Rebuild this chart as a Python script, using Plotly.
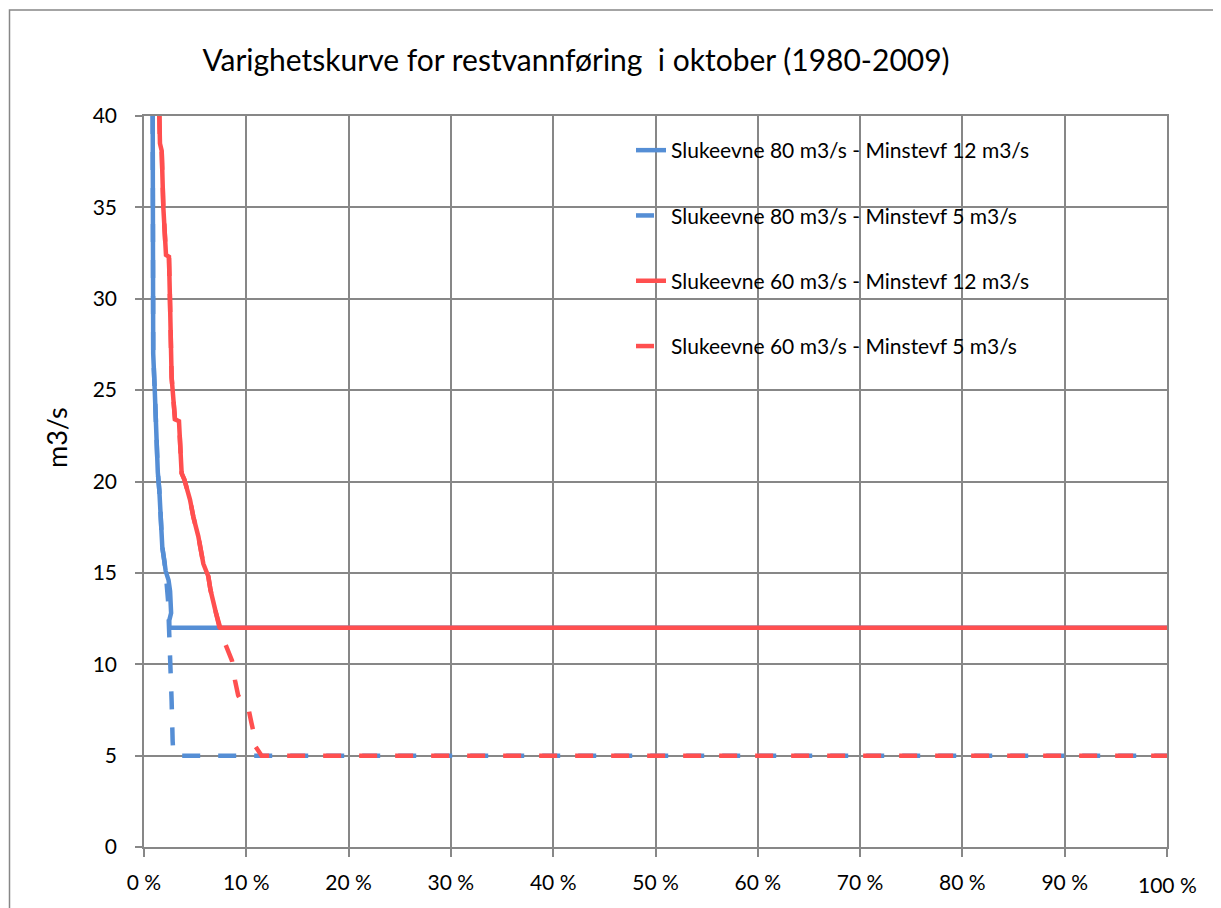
import plotly.graph_objects as go

# ---- data (x in % of time, y in m3/s) ----
title_text = "Varighetskurve for restvannføring  i oktober (1980-2009)"
y_label = "m3/s"
series_names = [
    "Slukeevne 80 m3/s - Minstevf 12 m3/s",
    "Slukeevne 80 m3/s - Minstevf 5 m3/s",
    "Slukeevne 60 m3/s - Minstevf 12 m3/s",
    "Slukeevne 60 m3/s - Minstevf 5 m3/s",
]

b80_12_x = [0.85, 0.85, 0.86, 0.90, 1.05, 1.15, 1.22, 1.35, 1.50, 1.62, 1.79, 2.00, 2.12, 2.40, 2.55, 2.65, 2.47, 2.47, 100]
b80_12_y = [40, 35, 30, 27.0, 25.0, 23.1, 22.8, 20.5, 19.5, 17.5, 16.4, 15.6, 15.1, 14.6, 14.0, 12.8, 12.4, 12.0, 12.0]

b80_5_x = [0.85, 0.85, 0.86, 0.90, 1.05, 1.15, 1.22, 1.35, 1.50, 1.62, 1.79, 2.00, 2.12, 2.20, 2.35, 2.47, 2.60, 2.70, 2.80, 2.85, 3.00, 100]
b80_5_y = [40, 35, 30, 27.0, 25.0, 23.1, 22.8, 20.5, 19.5, 17.5, 16.4, 15.6, 15.1, 14.5, 13.5, 12.0, 10.0, 8.0, 5.8, 5.3, 5.0, 5.0]

r60_12_x = [1.50, 1.56, 1.73, 1.89, 2.15, 2.44, 2.54, 2.70, 3.03, 3.42, 3.68, 3.95, 4.50, 4.82, 5.31, 5.80, 6.29, 6.50, 7.04, 7.43, 7.45, 100]
r60_12_y = [40, 38.5, 38.1, 35.0, 32.4, 32.3, 29.9, 25.7, 23.4, 23.3, 20.45, 20.1, 19.0, 18.07, 17.0, 15.5, 14.8, 14.06, 12.8, 12.05, 12.0, 12.0]

r60_5_x = [1.50, 1.56, 1.73, 1.89, 2.15, 2.44, 2.54, 2.70, 3.03, 3.42, 3.68, 3.95, 4.50, 4.82, 5.31, 5.80, 6.29, 6.50, 7.04, 7.43, 7.50, 8.10, 8.60, 8.90, 9.20, 9.50, 10.2, 10.5, 10.7, 10.9, 11.5, 100]
r60_5_y = [40, 38.5, 38.1, 35.0, 32.4, 32.3, 29.9, 25.7, 23.4, 23.3, 20.45, 20.1, 19.0, 18.07, 17.0, 15.5, 14.8, 14.06, 12.8, 12.05, 11.7, 10.9, 10.2, 9.1, 8.3, 8.0, 7.6, 6.8, 6.3, 5.5, 5.0, 5.0]

x_tickvals = [0, 10, 20, 30, 40, 50, 60, 70, 80, 90, 100]
x_ticktext = ["0 %", "10 %", "20 %", "30 %", "40 %", "50 %", "60 %", "70 %", "80 %", "90 %", ""]
last_x_label = "100 %"
y_tickvals = [0, 5, 10, 15, 20, 25, 30, 35, 40]

# ---- styling ----
BLUE = "#558ed5"
RED = "#ff4f4f"
GRID = "#878787"
FONT = "Lato"
DASH = "18px,18px"

fig = go.Figure()
xs = [b80_12_x, b80_5_x, r60_12_x, r60_5_x]
ys = [b80_12_y, b80_5_y, r60_12_y, r60_5_y]
colors = [BLUE, BLUE, RED, RED]
dashes = ["solid", DASH, "solid", DASH]
for i in range(4):
    fig.add_trace(go.Scatter(
        x=xs[i], y=ys[i], mode="lines", name=series_names[i],
        legendgroup=f"g{i}",
        line=dict(color=colors[i], width=4.5, dash=dashes[i]),
    ))

# page body has an 8px margin -> figure starts at screen (8, 8)
OFF = 8
W, H = 1221 - OFF, 908 - OFF
L, R, T, B = 144 - OFF, 1221 - 1167, 116 - OFF, 908 - 847
pw, ph = W - L - R, H - T - B

def px_x(p):  # screen pixel -> paper x
    return (p - OFF - L) / pw

def px_y(p):  # screen pixel -> paper y
    return (H + OFF - B - p) / ph

fig.update_layout(
    width=W, height=H,
    margin=dict(l=L, r=R, t=T, b=B),
    paper_bgcolor="white", plot_bgcolor="white",
    font=dict(family=FONT, color="black", size=20),
    title=dict(text=title_text, x=(576 - OFF) / W, xanchor="center",
               y=1 - (60 - OFF) / H, yanchor="middle", yref="container", xref="container",
               font=dict(family=FONT, size=30, color="black")),
    showlegend=True,
    legend=dict(
        x=px_x(631), xanchor="left", y=px_y(130), yanchor="top",
        bgcolor="rgba(0,0,0,0)", borderwidth=0,
        font=dict(family=FONT, size=21, color="black"),
        traceorder="grouped", tracegroupgap=35,
    ),
    xaxis=dict(
        range=[0, 100], tickvals=x_tickvals, ticktext=x_ticktext,
        showgrid=True, gridcolor=GRID, gridwidth=1.5,
        showline=True, linecolor=GRID, linewidth=1.5, mirror=True,
        ticks="outside", ticklen=8, tickcolor=GRID, tickwidth=1.5,
        zeroline=False, tickfont=dict(family=FONT, size=21, color="black"),
        ticklabelstandoff=8,
    ),
    yaxis=dict(
        range=[0, 40], tickvals=y_tickvals,
        showgrid=True, gridcolor=GRID, gridwidth=1.5,
        showline=True, linecolor=GRID, linewidth=1.5, mirror=True,
        ticks="outside", ticklen=7, tickcolor=GRID, tickwidth=1.5,
        zeroline=False, tickfont=dict(family=FONT, size=21, color="black"),
        ticklabelstandoff=14,
    ),
    shapes=[
        # white legend area covering gridlines
        dict(type="rect", xref="paper", yref="paper", layer="between",
             x0=px_x(462), x1=px_x(1163), y0=px_y(383), y1=px_y(118),
             fillcolor="white", line=dict(width=0)),
        # outer chart frame
        dict(type="rect", xref="paper", yref="paper", layer="above",
             x0=px_x(9.5), x1=px_x(1240), y0=px_y(925), y1=px_y(10),
             fillcolor="rgba(0,0,0,0)", line=dict(color=GRID, width=1.5)),
    ],
    annotations=[
        dict(text=y_label, xref="paper", yref="paper", x=px_x(56), y=px_y(438),
             textangle=-90, showarrow=False, xanchor="center", yanchor="middle",
             font=dict(family=FONT, size=27, color="black")),
        dict(text=last_x_label, xref="x", yref="paper", x=100, y=px_y(884),
             showarrow=False, xanchor="center", yanchor="middle",
             font=dict(family=FONT, size=21, color="black")),
    ],
)

fig.write_html("out.html")
